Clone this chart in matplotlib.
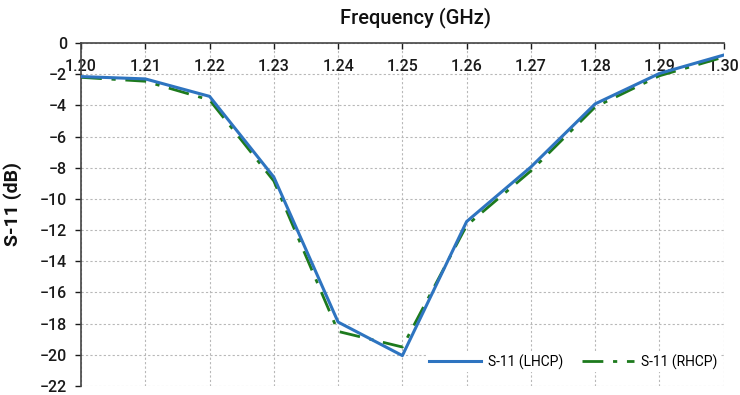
import matplotlib
matplotlib.use("Agg")
import matplotlib.pyplot as plt
from matplotlib import font_manager

# S-11 return loss of the antenna for both circular polarisations
freq_ghz = [1.20, 1.21, 1.22, 1.23, 1.24, 1.25, 1.26, 1.27, 1.28, 1.29, 1.30]
s11_lhcp = [-2.15, -2.3, -3.42, -8.6, -17.9, -20.05, -11.45, -7.95, -3.9, -1.95, -0.77]
s11_rhcp = [-2.2, -2.45, -3.65, -8.85, -18.5, -19.5, -11.7, -8.2, -4.1, -2.1, -0.9]
x_ticks = [1.20, 1.21, 1.22, 1.23, 1.24, 1.25, 1.26, 1.27, 1.28, 1.29, 1.30]
y_ticks = [0, -2, -4, -6, -8, -10, -12, -14, -16, -18, -20, -22]

names = {f.name for f in font_manager.fontManager.ttflist}
family = [f for f in ["Liberation Sans Narrow", "Roboto", "DejaVu Sans"] if f in names]
plt.rcParams["font.family"] = family

fig = plt.figure(figsize=(7.4, 3.95), dpi=100)
ax = fig.add_axes([0.1095, 0.0228, 0.8685, 0.8682])

ax.plot(freq_ghz, s11_lhcp, color="#2e74c0", lw=2.2, label="S-11 (LHCP)", zorder=3)
ax.plot(freq_ghz, s11_rhcp, color="#1d7a1d", lw=2.0, ls=(0, (7.5, 3.5, 1.5, 3.5)),
        label="S-11 (RHCP)", zorder=2)

ax.set_xlim(1.20, 1.30)
ax.set_ylim(-22, 0)
ax.set_xticks(x_ticks)
ax.set_xticklabels([f"{v:.2f}" for v in x_ticks])
ax.set_yticks(y_ticks)
ax.set_yticklabels([f"\u2212{abs(v)}" if v < 0 else "0" for v in y_ticks])

ax.xaxis.tick_top()
ax.xaxis.set_label_position("top")
ax.tick_params(axis="x", direction="in", length=4, width=1, pad=-22.5,
               labelsize=11.5, colors="#1a1a1a")
ax.tick_params(axis="y", direction="out", length=4, width=1, pad=6,
               labelsize=11.5, colors="#1a1a1a")
for lbl in ax.get_xticklabels() + ax.get_yticklabels():
    lbl.set_fontweight("medium")

for side in ("bottom", "right"):
    ax.spines[side].set_visible(False)
for side in ("top", "left"):
    ax.spines[side].set_color("#444444")
    ax.spines[side].set_linewidth(1.2)

ax.grid(True, color="#b8b8b8", ls=(0, (2, 2)), lw=0.8)
ax.set_axisbelow(True)

ax.set_xlabel("Frequency (GHz)", fontsize=14.5, fontweight="medium", color="#111111")
ax.xaxis.set_label_coords(0.521, 1.045)
ax.xaxis.label.set_va("bottom")
ax.set_ylabel("S-11 (dB)", fontsize=14, fontweight="bold", color="#111111")
ax.yaxis.set_label_coords(-0.092, 0.53)

leg = ax.legend(loc="center right", bbox_to_anchor=(0.994, 0.07), ncol=2,
                frameon=True, fontsize=10, handlelength=3.7, columnspacing=1.4,
                handletextpad=0.5, borderpad=0.2, borderaxespad=0)
leg.get_frame().set_edgecolor("none")
leg.get_frame().set_facecolor("white")
leg.get_frame().set_alpha(1.0)

fig.savefig("out.png", dpi=100)
